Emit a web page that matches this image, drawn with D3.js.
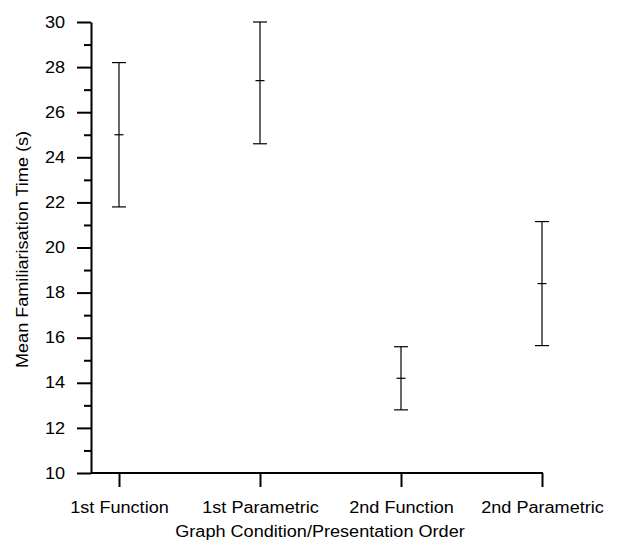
<!DOCTYPE html>
<html>
<head>
<meta charset="utf-8">
<script src="https://d3js.org/d3.v7.min.js"></script>
<style>
body { margin: 0; background: #fff; }
text { font-family: "Liberation Sans", Arial, sans-serif; fill: #000; }
</style>
</head>
<body>
<svg width="618" height="543"></svg>
<script>
// data
var conditions = ["1st Function", "1st Parametric", "2nd Function", "2nd Parametric"];
var means = [25.0, 27.4, 14.2, 18.4];
var lowers = [21.8, 24.6, 12.8, 15.65];
var uppers = [28.2, 30.0, 15.6, 21.15];
var majorTicks = [10, 12, 14, 16, 18, 20, 22, 24, 26, 28, 30];
var minorTicks = [11, 13, 15, 17, 19, 21, 23, 25, 27, 29];

var svg = d3.select("svg"),
    plotLeft = 91, plotRight = 542, plotTop = 22, plotBottom = 473,
    stretch = 1.13;

var y = d3.scaleLinear()
    .domain([10, 30])
    .range([plotBottom, plotTop]);

var x = d3.scalePoint()
    .domain(conditions)
    .range([plotLeft + 28, plotRight]);

// widen text a bit like the original rendering
function widen(sel) {
    sel.each(function() {
        var w = this.getComputedTextLength();
        d3.select(this).attr("textLength", w * stretch).attr("lengthAdjust", "spacingAndGlyphs");
    });
}

// minor ticks
svg.append("g")
    .attr("transform", "translate(" + plotLeft + ",0)")
    .call(d3.axisLeft(y).tickValues(minorTicks).tickSize(7).tickFormat(""))
    .call(function(g) { g.select(".domain").remove(); })
    .selectAll("line").attr("stroke", "#000").attr("stroke-width", 2);

// y axis
var yAxis = svg.append("g")
    .attr("transform", "translate(" + plotLeft + ",0)")
    .call(d3.axisLeft(y).tickValues(majorTicks).tickSize(14).tickSizeOuter(0).tickPadding(12));
yAxis.select(".domain").attr("stroke", "#000").attr("stroke-width", 2);
yAxis.selectAll("line").attr("stroke", "#000").attr("stroke-width", 2);
yAxis.selectAll("text")
    .style("font-size", "16px")
    .style("font-family", "'Liberation Sans', Arial, sans-serif")
    .call(widen);

// x axis
var xAxis = svg.append("g")
    .attr("transform", "translate(0," + plotBottom + ")")
    .call(d3.axisBottom(x).tickSize(14).tickPadding(15));
xAxis.select(".domain").remove();
xAxis.append("line")
    .attr("x1", plotLeft).attr("x2", plotRight + 1)
    .attr("stroke", "#000").attr("stroke-width", 2);
xAxis.selectAll("line").attr("stroke", "#000").attr("stroke-width", 2);
xAxis.selectAll("text")
    .style("font-size", "16px")
    .style("font-family", "'Liberation Sans', Arial, sans-serif")
    .call(widen);

// error bars
var bars = svg.append("g").selectAll("g")
    .data(conditions)
    .enter().append("g")
    .attr("stroke", "#000")
    .attr("stroke-width", 1.2);

bars.append("line")
    .attr("x1", function(d) { return x(d); })
    .attr("x2", function(d) { return x(d); })
    .attr("y1", function(d, i) { return y(uppers[i]); })
    .attr("y2", function(d, i) { return y(lowers[i]); });

bars.append("line")
    .attr("x1", function(d) { return x(d) - 7; })
    .attr("x2", function(d) { return x(d) + 7; })
    .attr("y1", function(d, i) { return y(uppers[i]); })
    .attr("y2", function(d, i) { return y(uppers[i]); });

bars.append("line")
    .attr("x1", function(d) { return x(d) - 7; })
    .attr("x2", function(d) { return x(d) + 7; })
    .attr("y1", function(d, i) { return y(lowers[i]); })
    .attr("y2", function(d, i) { return y(lowers[i]); });

bars.append("line")
    .attr("x1", function(d) { return x(d) - 4.5; })
    .attr("x2", function(d) { return x(d) + 4.5; })
    .attr("y1", function(d, i) { return y(means[i]); })
    .attr("y2", function(d, i) { return y(means[i]); });

// axis titles
svg.append("text")
    .attr("x", 320)
    .attr("y", 537)
    .attr("text-anchor", "middle")
    .style("font-size", "16px")
    .text("Graph Condition/Presentation Order")
    .call(widen);

svg.append("text")
    .attr("transform", "translate(28," + ((plotTop + plotBottom) / 2 + 2) + ") rotate(-90)")
    .attr("text-anchor", "middle")
    .style("font-size", "16px")
    .text("Mean Familiarisation Time (s)")
    .call(widen);
</script>
</body>
</html>
